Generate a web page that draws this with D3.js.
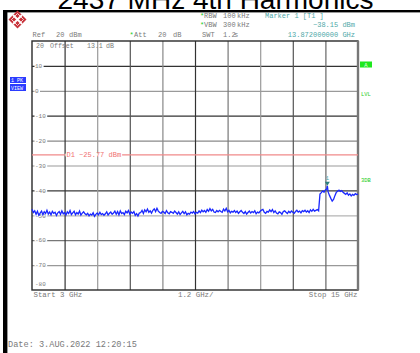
<!DOCTYPE html>
<html>
<head>
<meta charset="utf-8">
<script src="https://cdn.jsdelivr.net/npm/d3@7"></script>
<style>
  html, body { margin: 0; padding: 0; background: #fff; }
  svg { display: block; }
  .mono { font-family: "Liberation Mono", "DejaVu Sans Mono", monospace; }
</style>
</head>
<body>
<svg id="chart" width="420" height="353"></svg>
<script>
// ---- data ----
const title = "2437 MHz 4th Harmonics";
const freqStartGHz = 3;
const freqStopGHz = 15;
const freqPerDivGHz = 1.2;
const freqStepGHz = 0.05;
const refLevel = 20;
const bottomLevel = -80;
const levelTicks = [10, 0, -10, -20, -30, -40, -50, -60, -70];
const levelTickLabels = ["10", "0", "-10", "-20", "-30", "-40", "-50", "-60", "-70"];
const bottomLevelLabel = "-80";
const displayLineLevel = -25.77;
const markerFreqGHz = 13.872;
const markerLevel = -38.15;

// peak-hold trace, one value per 0.05 GHz from 3 GHz to 15 GHz (dBm)
const traceLevels = [
  -47.6, -48.9, -48.2, -49.6, -48.4, -50.0, -49.1, -48.3, -49.7, -48.6,
  -49.3, -48.0, -49.5, -48.7, -49.8, -48.4, -49.2, -48.8, -50.1, -49.0,
  -48.5, -49.6, -48.2, -49.4, -48.9, -49.9, -48.6, -49.3, -48.1, -49.7,
  -49.0, -48.4, -49.8, -48.9, -49.5, -48.3, -49.9, -49.1, -48.6, -49.4,
  -49.8, -49.2, -50.2, -49.5, -49.9, -49.0, -50.4, -49.6, -49.1, -49.8,
  -48.8, -49.7, -49.3, -50.0, -49.4, -48.6, -49.9, -49.2, -48.7, -49.6,
  -49.1, -48.3, -49.6, -48.5, -49.8, -48.2, -49.3, -48.9, -49.7, -48.4,
  -49.0, -48.1, -49.5, -48.7, -49.2, -48.5, -50.0, -49.3, -50.3, -49.1,
  -48.9, -48.0, -49.3, -47.8, -48.6, -47.5, -48.8, -48.2, -49.1, -48.0,
  -47.4, -48.5, -47.2, -48.3, -48.9, -49.2, -48.4, -48.7, -49.3, -48.1,
  -49.0, -49.4, -48.5, -48.8, -49.2, -48.3, -48.9, -49.5, -48.6, -49.7,
  -49.0, -48.4, -49.3, -48.6, -49.8, -49.2, -49.5, -48.7, -49.1, -48.5,
  -49.4, -48.8, -49.1, -48.2, -48.9, -47.9, -48.6, -48.1, -48.8, -47.7,
  -48.4, -47.3, -48.2, -47.6, -48.7, -48.9, -48.1, -48.6, -48.0, -48.5,
  -48.8, -47.5, -48.3, -47.2, -48.6, -48.0, -49.0, -48.4, -48.7, -48.1,
  -48.9, -48.3, -49.2, -48.6, -48.1, -48.8, -49.3, -48.5, -49.5, -48.9,
  -48.3, -49.1, -48.5, -48.9, -48.2, -49.4, -48.7, -49.0, -48.4, -47.9,
  -47.6, -48.8, -49.2, -48.4, -48.7, -47.8, -48.5, -47.7, -48.9, -48.2,
  -49.1, -49.4, -48.6, -48.9, -49.6, -48.5, -48.2, -48.8, -49.3, -48.4,
  -49.0, -48.3, -48.8, -49.2, -48.5, -48.0, -48.7, -48.3, -49.0, -48.1,
  -48.5, -48.0, -48.7, -48.2, -48.9, -47.8, -48.4, -47.6, -48.3, -48.0,
  -47.7, -48.2, -41.5, -40.9, -40.2, -40.7, -39.8, -39.4, -40.6, -42.0,
  -43.2, -44.3, -43.6, -42.1, -40.8, -40.3, -39.9, -40.4, -40.1, -40.8,
  -41.2, -41.6, -41.0, -41.9, -41.4, -42.2, -41.6, -42.0, -41.3, -41.7,
  -41.5
];

// ---- layout ----
const svg = d3.select("#chart");
const plot = { left: 32, right: 358, top: 41, bottom: 290 };
const x = d3.scaleLinear().domain([freqStartGHz, freqStopGHz]).range([plot.left, plot.right]);
const y = d3.scaleLinear().domain([bottomLevel, refLevel]).range([plot.bottom, plot.top]);
const textGray = "#7a7a7a";
const teal = "#4fa8a8";
const green = "#22cc22";

svg.append("rect").attr("width", 420).attr("height", 353).attr("fill", "#fff");

// title (partly above the page edge)
svg.append("text")
  .attr("x", 215.5).attr("y", 9)
  .attr("text-anchor", "middle")
  .attr("font-family", "'Liberation Sans', Arial, sans-serif")
  .attr("font-size", 28)
  .attr("fill", "#000")
  .text(title);

// frame of the screen copy
svg.append("rect").attr("x", 3).attr("y", 10).attr("width", 417).attr("height", 2.4).attr("fill", "#000");
svg.append("rect").attr("x", 3).attr("y", 10).attr("width", 4.4).attr("height", 343).attr("fill", "#000");

// logo
const logo = svg.append("g").attr("transform", "translate(17.5,19.5)");
logo.append("path").attr("d", "M0,-9 L9,0 L0,9 L-9,0 Z").attr("fill", "#c8323a");
logo.append("path").attr("d", "M-4.5,-4.5 L4.5,4.5 M-4.5,4.5 L4.5,-4.5").attr("stroke", "#fff").attr("stroke-width", 1.8);
logo.append("path").attr("d", "M0,-6 L6,0 L0,6 L-6,0 Z").attr("fill", "none").attr("stroke", "#fff").attr("stroke-width", 0.8);

// helper for small monospace labels
function label(parent, tx, ty, str, opts = {}) {
  return parent.append("text")
    .attr("class", "mono")
    .attr("x", tx).attr("y", ty)
    .attr("font-size", opts.size || 7)
    .attr("fill", opts.fill || textGray)
    .attr("text-anchor", opts.anchor || "start")
    .text(str);
}

// header
label(svg, 32.5, 36.5, "Ref");
label(svg, 56, 36.5, "20");
label(svg, 69, 36.5, "dBm");
label(svg, 129.5, 36.5, "*", { fill: green });
label(svg, 134, 36.5, "Att");
label(svg, 158, 36.5, "20");
label(svg, 173, 36.5, "dB");

label(svg, 200, 17.5, "*", { fill: green });
label(svg, 204, 17.5, "RBW");
label(svg, 223, 17.5, "100");
label(svg, 237, 17.5, "kHz");
label(svg, 200, 27, "*", { fill: green });
label(svg, 204, 27, "VBW");
label(svg, 223, 27, "300");
label(svg, 237, 27, "kHz");
label(svg, 202, 36.5, "SWT");
label(svg, 223, 36.5, "1.2");
label(svg, 234, 36.5, "s");

label(svg, 265, 17.5, "Marker 1 [T1 ]", { fill: teal });
label(svg, 355, 27, d3.format(".2f")(markerLevel) + " dBm", { fill: teal, anchor: "end" });
label(svg, 355, 36.5, d3.format(".9f")(markerFreqGHz) + " GHz", { fill: teal, anchor: "end" });

// grid via axes
const hColors = ["#333", "#9a9a9a", "#333", "#8a8a8a", "#9a9a9a", "#3a3a3a", "#b5b5b5", "#777", "#999"];
const gY = svg.append("g")
  .attr("transform", `translate(${plot.left},0)`)
  .call(d3.axisLeft(y).tickValues(levelTicks).tickSize(-(plot.right - plot.left)).tickFormat(""));
gY.select(".domain").remove();
gY.selectAll(".tick line").attr("stroke", (d, i) => hColors[i]).attr("stroke-width", 1.2);

const vTicks = d3.range(1, 10).map(k => freqStartGHz + k * freqPerDivGHz);
const vColors = ["#333", "#999", "#555", "#888", "#333", "#777", "#999", "#555", "#666"];
const gX = svg.append("g")
  .attr("transform", `translate(0,${plot.bottom})`)
  .call(d3.axisBottom(x).tickValues(vTicks).tickSize(-(plot.bottom - plot.top)).tickFormat(""));
gX.select(".domain").remove();
gX.selectAll(".tick line").attr("stroke", (d, i) => vColors[i]).attr("stroke-width", 1.2);

// plot border
svg.append("rect")
  .attr("x", plot.left).attr("y", plot.top)
  .attr("width", plot.right - plot.left).attr("height", plot.bottom - plot.top)
  .attr("fill", "none").attr("stroke", "#2a2a2a").attr("stroke-width", 1.4);
svg.append("line")
  .attr("x1", plot.right).attr("x2", plot.right).attr("y1", plot.top).attr("y2", plot.bottom)
  .attr("stroke", "#777").attr("stroke-width", 2.4);

// level labels on the left grid edge
levelTicks.forEach((v, i) => {
  const t = label(svg, 35, y(v) + 2.2, levelTickLabels[i], { size: 6 });
  const bb = t.node().getBBox();
  svg.insert("rect", () => t.node())
    .attr("x", bb.x - 0.5).attr("y", y(v) - 1.5).attr("width", bb.width + 1.5).attr("height", 3)
    .attr("fill", "#fff");
});
label(svg, 35, y(bottomLevel) - 4, bottomLevelLabel, { size: 6 });

// reference offset note in the top row
label(svg, 36, 48, "20", { size: 6.6 });
label(svg, 50, 48, "Offset", { size: 6.6 });
label(svg, 87, 48, "13.1", { size: 6.6 });
label(svg, 106, 48, "dB", { size: 6.6 });

// display line D1
svg.append("line")
  .attr("x1", plot.left).attr("x2", plot.right)
  .attr("y1", y(displayLineLevel)).attr("y2", y(displayLineLevel))
  .attr("stroke", "#f08a8a").attr("stroke-width", 1.2);
const d1 = label(svg, 66.5, y(displayLineLevel) + 2.3, "D1 " + d3.format(".2f")(displayLineLevel) + " dBm", { fill: "#f07070", size: 7 });
const d1bb = d1.node().getBBox();
svg.insert("rect", () => d1.node())
  .attr("x", d1bb.x - 1).attr("y", y(displayLineLevel) - 1.5).attr("width", d1bb.width + 2).attr("height", 3)
  .attr("fill", "#fff");

// trace
const traceData = traceLevels.map((lv, i) => ({ f: freqStartGHz + i * freqStepGHz, lv }));
traceData.push({ f: markerFreqGHz, lv: markerLevel });
traceData.sort((a, b) => a.f - b.f);
svg.append("path")
  .datum(traceData)
  .attr("fill", "none")
  .attr("stroke", "#1a28ff")
  .attr("stroke-width", 1.3)
  .attr("d", d3.line().x(d => x(d.f)).y(d => y(d.lv)));

// marker 1
const mx = x(markerFreqGHz), my = y(markerLevel);
svg.append("path")
  .attr("d", `M${mx - 2.5},${my - 4} L${mx + 2.5},${my - 4} L${mx},${my} Z`)
  .attr("fill", "#2a8080");
label(svg, mx, my - 5.5, "1", { fill: teal, anchor: "middle", size: 6 });

// trace info box
svg.append("rect").attr("x", 10).attr("y", 77).attr("width", 16).attr("height", 6).attr("fill", "#2b3cff");
svg.append("rect").attr("x", 10).attr("y", 84).attr("width", 16).attr("height", 7).attr("fill", "#2b3cff");
label(svg, 11, 82, "1 PK", { fill: "#fff", size: 5 });
label(svg, 11, 89.5, "VIEW", { fill: "#fff", size: 5 });

// right-hand status indicators
svg.append("rect").attr("x", 360).attr("y", 61.5).attr("width", 12).attr("height", 6).attr("fill", "#1ee81e");
label(svg, 366, 66.5, "A", { fill: "#e8ffe8", size: 5.5, anchor: "middle" });
label(svg, 361, 96, "LVL", { fill: green, size: 5.5 });
label(svg, 361, 182, "3DB", { fill: green, size: 5.5 });

// frequency annotations
label(svg, 33.5, 297, "Start 3 GHz", { size: 7.4 });
label(svg, 178, 297, d3.format(".1f")(freqPerDivGHz) + " GHz/", { size: 7.4 });
label(svg, 357.5, 297, "Stop 15 GHz", { size: 7.4, anchor: "end" });

// date stamp
label(svg, 8, 346.5, "Date: 3.AUG.2022  12:20:15", { size: 8.6 });
</script>
</body>
</html>
